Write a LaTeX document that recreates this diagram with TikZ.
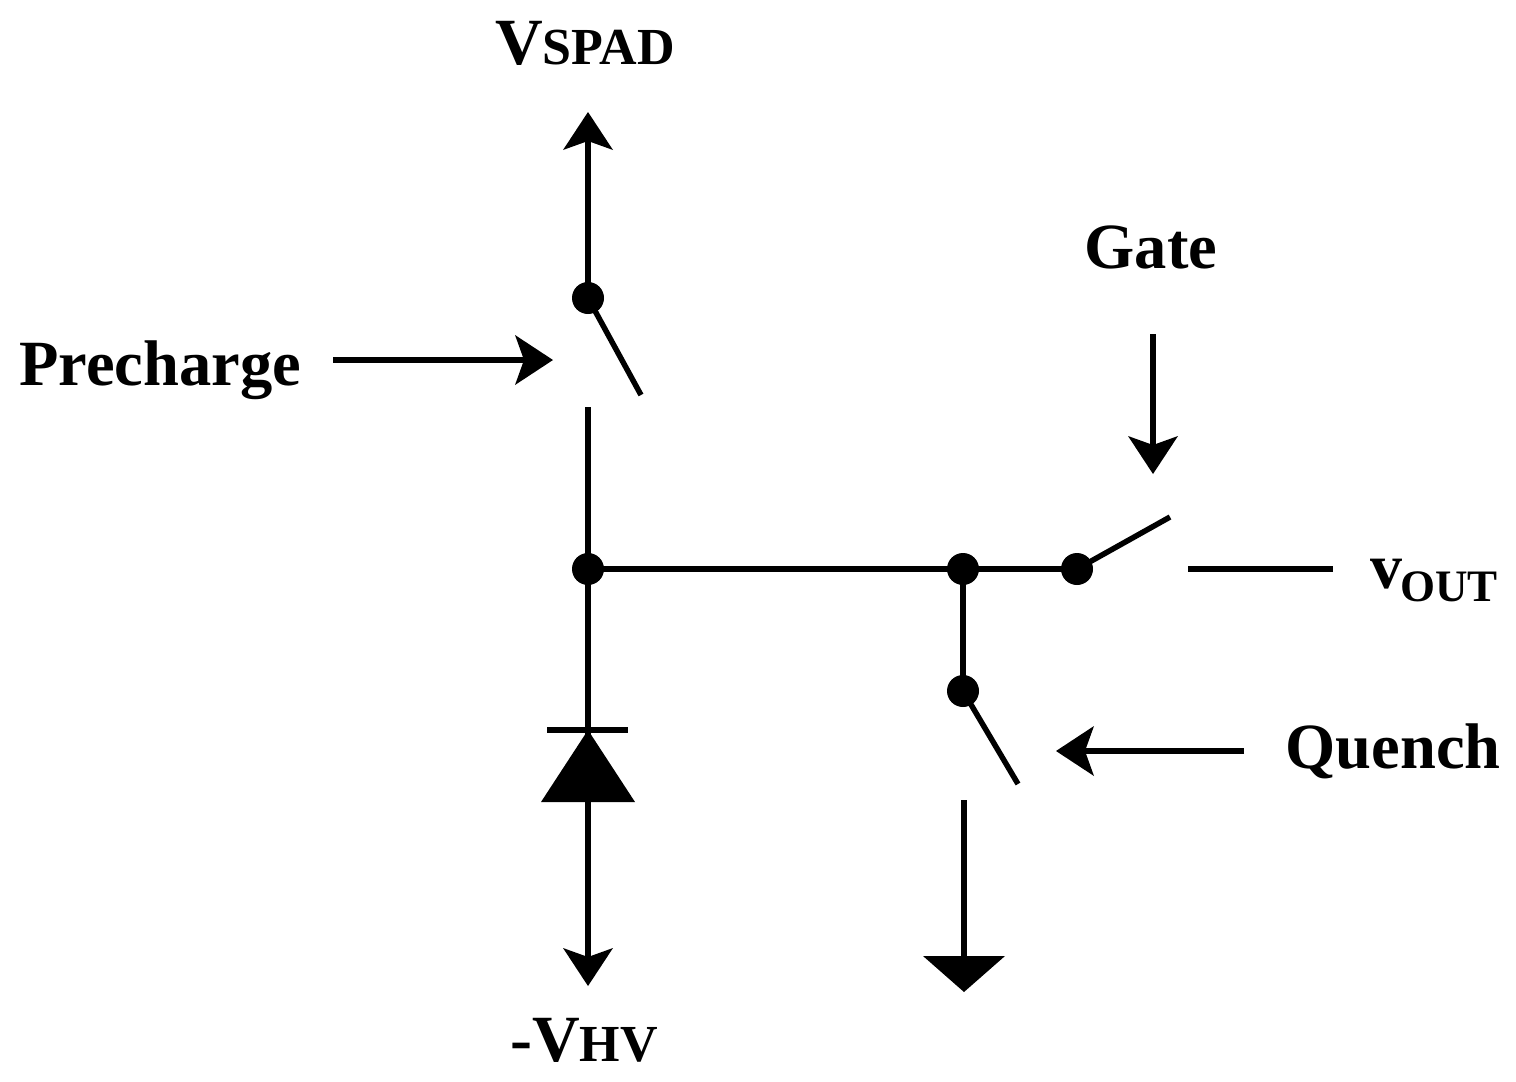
\documentclass[tikz,border=0pt]{standalone}
\usepackage{fontspec}
\setmainfont{Liberation Serif}
\usetikzlibrary{arrows.meta}
\newcommand{\bigf}{\fontsize{66pt}{66pt}\selectfont}
\newcommand{\smallf}{\fontsize{52pt}{52pt}\selectfont}
\begin{document}
\begin{tikzpicture}[x=1pt,y=-1pt,
  wire/.style={line width=5.5pt,black},
  conn/.style={line width=5.5pt,black,-{Stealth[length=38pt,width=50pt,inset=9pt,line width=0pt]}},
  dot/.style={circle,fill=black,minimum size=32pt,inner sep=0pt},
  lab/.style={font=\bfseries\fontsize{64.5pt}{64.5pt}\selectfont,inner sep=0pt,anchor=base,text=black}]
\useasboundingbox (0,0) rectangle (1516,1082);
\fill[white] (0,0) rectangle (1516,1082);
\node[dot] (d1) at (588,298) {};
\node[dot] (j1) at (588,569) {};
\node[dot] (j2) at (963,569) {};
\node[dot] (d3) at (1077,569) {};
\node[dot] (d4) at (963,691) {};
\coordinate (top) at (588,112);
\coordinate (s1) at (641,395);
\coordinate (w1) at (588,407);
\coordinate (kt) at (588,730);
\coordinate (bot) at (588,986);
\coordinate (s2) at (1170,517);
\coordinate (o1) at (1188,569);
\coordinate (o2) at (1333,569);
\coordinate (s3) at (1018,784);
\coordinate (g1) at (964,800);
\node[lab] (vspad) at (585,64) {\bigf V\smallf SPAD};
\node[lab] (prech) at (160,385) {Precharge};
\node[lab] (gate) at (1151,268) {Gate};
\node[lab] (quench) at (1393,768) {Quench};
\node[lab,anchor=base west] (vout) at (1370,588) {\fontsize{64pt}{64pt}\selectfont v\kern-2pt\raisebox{-13pt}{\fontsize{45pt}{45pt}\selectfont OUT}};
\node[lab] (vhv) at (584,1061) {\bigf -V\smallf HV};
\coordinate (pa) at (333,360); \coordinate (pb) at (553,360);
\coordinate (ga) at (1153,334); \coordinate (gb) at (1153,474);
\coordinate (qa) at (1244,751); \coordinate (qb) at (1056,751);
\draw[conn] (d1.center) -- (top);
\draw[wire] (d1.center) -- (s1);
\draw[wire] (w1) -- (kt);
\draw[wire] (j1.center) -- (d3.center);
\draw[wire] (d3.center) -- (s2);
\draw[wire] (o1) -- (o2);
\draw[wire] (j2.center) -- (d4.center);
\draw[wire] (d4.center) -- (s3);
\draw[conn] (pa) -- (pb);
\draw[conn] (ga) -- (gb);
\draw[conn] (qa) -- (qb);
\draw[conn] (kt) -- (bot);
\draw[wire] (547,730) -- (628,730);
\fill[black] (588,730) -- (635,802) -- (541,802) -- cycle;
\draw[wire] (964,800) -- (964,960);
\fill[black] (923,956) -- (1005,956) -- (964,992) -- cycle;
\end{tikzpicture}
\end{document}
